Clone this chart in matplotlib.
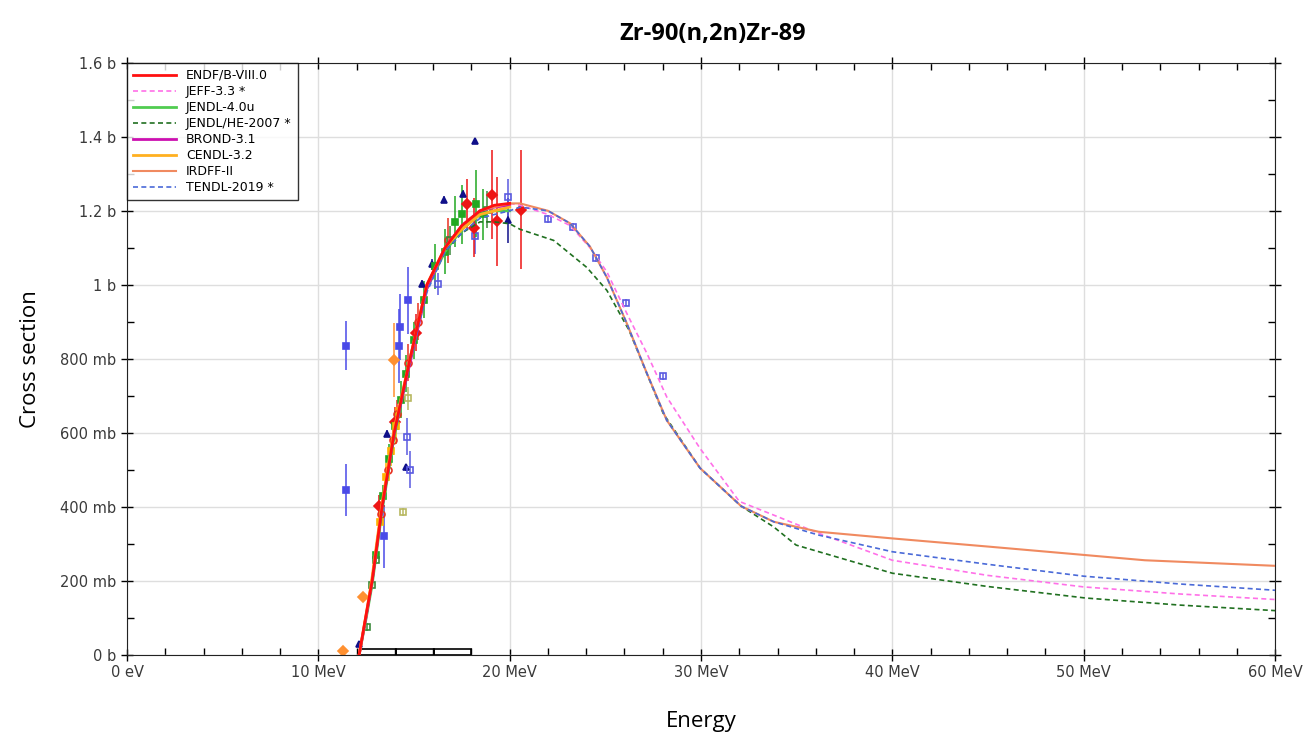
import numpy as np
import matplotlib
matplotlib.use("Agg")
from matplotlib import pyplot as plt
from matplotlib.patches import Rectangle
from matplotlib.ticker import MultipleLocator, FixedLocator

# evaluated libraries (energy in MeV, cross section in b)
e_rise = [12.13, 12.5, 12.81, 13.33, 13.96, 14.79, 15.67, 16.62, 17.5, 18.45, 19.2, 20.0]
endf = [0, 0.11, 0.2, 0.4, 0.6, 0.8, 1.0, 1.1, 1.16, 1.2, 1.215, 1.22]
jendl4 = [0, 0.1, 0.19, 0.39, 0.59, 0.8, 0.99, 1.09, 1.15, 1.19, 1.2, 1.2]
brond = [0, 0.105, 0.2, 0.4, 0.6, 0.79, 0.99, 1.1, 1.16, 1.2, 1.21, 1.215]
cendl = [0, 0.11, 0.21, 0.41, 0.61, 0.8, 1.0, 1.1, 1.15, 1.19, 1.2, 1.21]

e_irdff = e_rise + [20.54, 22.0, 23.16, 24.2, 25.08, 26.12, 27.17, 28.21, 29.95,
                    32.1, 33.8, 36.15, 40.0, 45.0, 50.1, 53.2, 60.0]
irdff = [0, 0.11, 0.2, 0.4, 0.6, 0.8, 1.0, 1.1, 1.16, 1.2, 1.21, 1.22,
         1.22, 1.2, 1.166, 1.103, 1.02, 0.896, 0.761, 0.634, 0.505,
         0.402, 0.36, 0.333, 0.315, 0.293, 0.27, 0.256, 0.241]

e_tendl = e_rise + [20.54, 22.0, 23.16, 24.2, 25.08, 26.12, 27.17, 28.21, 29.95,
                    32.1, 33.8, 36.15, 40.0, 45.0, 50.0, 55.0, 60.0]
tendl = [0, 0.1, 0.2, 0.39, 0.59, 0.79, 0.98, 1.09, 1.14, 1.18, 1.19, 1.2,
         1.21, 1.2, 1.166, 1.103, 1.02, 0.896, 0.761, 0.634, 0.505,
         0.402, 0.36, 0.324, 0.279, 0.245, 0.213, 0.192, 0.175]

e_jeff = e_rise + [20.54, 22.0, 23.16, 24.2, 25.08, 26.12, 27.17, 28.21, 29.95,
                   32.0, 33.8, 36.15, 40.0, 45.0, 50.0, 55.0, 60.0]
jeff = [0, 0.11, 0.2, 0.4, 0.6, 0.8, 1.0, 1.1, 1.16, 1.2, 1.215, 1.22,
        1.215, 1.19, 1.16, 1.1, 1.035, 0.923, 0.815, 0.697, 0.558,
        0.415, 0.378, 0.329, 0.256, 0.215, 0.184, 0.165, 0.15]

e_jhe = e_rise + [20.54, 22.3, 24.03, 25.08, 26.24, 28.02, 29.95,
                  32.1, 33.8, 34.97, 40.0, 45.0, 50.1, 55.0, 60.0]
jendl_he = [0, 0.1, 0.2, 0.4, 0.6, 0.8, 0.99, 1.09, 1.14, 1.17, 1.17, 1.165,
            1.15, 1.12, 1.047, 0.985, 0.877, 0.653, 0.505,
            0.402, 0.346, 0.297, 0.221, 0.185, 0.154, 0.135, 0.12]

# experimental points: energy, cross section, uncertainty
exp_blue_e = [11.45, 11.45, 13.45, 14.27, 14.22, 14.7]
exp_blue_s = [0.836, 0.445, 0.321, 0.886, 0.836, 0.958]
exp_blue_d = [0.067, 0.07, 0.085, 0.09, 0.1, 0.09]

exp_navy_e = [12.1, 13.57, 14.58, 15.4, 15.93, 16.59, 17.55, 18.19, 19.93]
exp_navy_s = [0.03, 0.598, 0.507, 1.003, 1.055, 1.23, 1.246, 1.388, 1.174]
exp_navy_d = [0.0, 0.01, 0.01, 0.01, 0.015, 0.01, 0.01, 0.005, 0.06]

exp_open_e = [14.62, 14.8, 16.27, 18.19, 19.9, 22.0, 23.3, 24.5, 26.1, 28.0]
exp_open_s = [0.589, 0.5, 1.003, 1.133, 1.236, 1.178, 1.156, 1.073, 0.952, 0.753]
exp_open_d = [0.05, 0.05, 0.03, 0.05, 0.05, 0.01, 0.01, 0.01, 0.01, 0.01]

exp_red_e = [13.19, 17.76, 18.15, 19.1, 19.36, 20.6, 14.0, 15.1]
exp_red_s = [0.402, 1.217, 1.154, 1.243, 1.172, 1.203, 0.63, 0.87]
exp_red_d = [0.03, 0.07, 0.08, 0.12, 0.12, 0.16, 0.04, 0.05]

exp_green_e = [13.0, 13.4, 13.7, 14.0, 14.3, 14.6, 15.0, 15.5, 16.1, 16.6, 17.15, 17.53, 18.24, 18.6]
exp_green_s = [0.27, 0.43, 0.53, 0.62, 0.69, 0.76, 0.85, 0.96, 1.05, 1.09, 1.171, 1.19, 1.219, 1.19]
exp_green_d = [0.02, 0.03, 0.04, 0.04, 0.05, 0.05, 0.05, 0.05, 0.06, 0.06, 0.07, 0.08, 0.09, 0.07]

exp_circ_e = [13.3, 13.65, 13.9, 14.1, 14.7, 15.2, 16.8]
exp_circ_s = [0.38, 0.5, 0.58, 0.65, 0.79, 0.9, 1.12]
exp_circ_d = [0.03, 0.03, 0.04, 0.04, 0.05, 0.05, 0.06]

exp_dgreen_e = [12.53, 12.79, 13.0, 16.9, 18.83]
exp_dgreen_s = [0.076, 0.189, 0.256, 1.12, 1.203]
exp_dgreen_d = [0.01, 0.01, 0.01, 0.04, 0.05]

exp_gold_e = [13.2, 13.55, 13.8, 14.05]
exp_gold_s = [0.36, 0.48, 0.55, 0.62]
exp_gold_d = [0.03, 0.04, 0.04, 0.05]

exp_orange_e = [11.3, 12.35, 13.96]
exp_orange_s = [0.012, 0.157, 0.798]
exp_orange_d = [0.0, 0.01, 0.1]

exp_olive_e = [14.4, 14.7]
exp_olive_s = [0.386, 0.693]
exp_olive_d = [0.01, 0.03]

# spectrum averaged bins at the bottom
bin_edges = [12.2, 14.06, 16.07, 18.0]
bin_height = 0.016

fig = plt.figure(figsize=(13.08, 7.36), dpi=100)
ax = fig.add_axes([0.0971, 0.110, 0.8777, 0.8048])

# experimental data first (under the curves)
def exp(e, s, d, color, marker, filled=True, ms=5):
    ax.errorbar(e, s, yerr=d, fmt=marker, color=color, ms=ms, elinewidth=1.1,
                capsize=0, mfc=color if filled else "none", mec=color, mew=1.2, zorder=2)

exp(exp_blue_e, exp_blue_s, exp_blue_d, "#4a4ae8", "s")
exp(exp_navy_e, exp_navy_s, exp_navy_d, "#10108a", "^")
exp(exp_open_e, exp_open_s, exp_open_d, "#5a5ae0", "s", filled=False)
exp(exp_red_e, exp_red_s, exp_red_d, "#ee1515", "D")
exp(exp_green_e, exp_green_s, exp_green_d, "#22a822", "s")
exp(exp_circ_e, exp_circ_s, exp_circ_d, "#e83020", "o", filled=False)
exp(exp_dgreen_e, exp_dgreen_s, exp_dgreen_d, "#3c8a3c", "s", filled=False)
exp(exp_gold_e, exp_gold_s, exp_gold_d, "#ffb400", "s")
exp(exp_orange_e, exp_orange_s, exp_orange_d, "#ff9030", "D")
exp(exp_olive_e, exp_olive_s, exp_olive_d, "#b8b860", "s", filled=False)

for lo, hi in zip(bin_edges[:-1], bin_edges[1:]):
    ax.add_patch(Rectangle((lo, 0), hi - lo, bin_height, fill=False, ec="black", lw=1.2, zorder=3))

ax.plot(e_rise, endf, color="#ff1010", lw=2, label="ENDF/B-VIII.0", zorder=5)
ax.plot(e_jeff, jeff, color="#ff70e8", lw=1.2, ls=(0, (3, 2)), label="JEFF-3.3 *", zorder=4)
ax.plot(e_rise, jendl4, color="#50cc50", lw=2, label="JENDL-4.0u", zorder=4)
ax.plot(e_jhe, jendl_he, color="#207020", lw=1.2, ls=(0, (3, 2)), label="JENDL/HE-2007 *", zorder=4)
ax.plot(e_rise, brond, color="#cc10b0", lw=2, label="BROND-3.1", zorder=4)
ax.plot(e_rise, cendl, color="#ffb020", lw=2, label="CENDL-3.2", zorder=4)
ax.plot(e_irdff, irdff, color="#f08a60", lw=1.5, label="IRDFF-II", zorder=4)
ax.plot(e_tendl, tendl, color="#4a6ad8", lw=1.2, ls=(0, (3, 2)), label="TENDL-2019 *", zorder=4)

ax.set_xlim(0, 60)
ax.set_ylim(0, 1.6)

xt = [0, 10, 20, 30, 40, 50, 60]
xtl = ["0 eV", "10 MeV", "20 MeV", "30 MeV", "40 MeV", "50 MeV", "60 MeV"]
yt = [0, 0.2, 0.4, 0.6, 0.8, 1.0, 1.2, 1.4, 1.6]
ytl = ["0 b", "200 mb", "400 mb", "600 mb", "800 mb", "1 b", "1.2 b", "1.4 b", "1.6 b"]
ax.xaxis.set_major_locator(FixedLocator(xt))
ax.set_xticklabels(xtl)
ax.yaxis.set_major_locator(FixedLocator(yt))
ax.set_yticklabels(ytl)
ax.xaxis.set_minor_locator(MultipleLocator(2))
ax.yaxis.set_minor_locator(MultipleLocator(0.1))
ax.tick_params(which="major", direction="inout", length=9, width=1, labelsize=10.5,
               labelcolor="#3a3a3a", top=True, right=True, pad=3)
ax.tick_params(which="minor", direction="in", length=5, width=1, top=True, right=True)
ax.grid(True, which="major", color="#dedede", lw=1, zorder=0)
ax.set_axisbelow(True)
for sp in ax.spines.values():
    sp.set_color("#222222")

ax.set_title("Zr-90(n,2n)Zr-89", fontsize=17, fontweight="bold", family="Open Sans", pad=16, x=0.51)
ax.set_xlabel("Energy", fontsize=16, family="Open Sans", labelpad=22)
ax.set_ylabel("Cross section", fontsize=16, family="Open Sans", labelpad=14)

leg = ax.legend(loc="upper left", fontsize=9, frameon=True, fancybox=False,
                edgecolor="black", borderaxespad=0, handlelength=3.4,
                labelspacing=0.24, borderpad=0.5)
leg.get_frame().set_linewidth(1)

fig.savefig("out.png", dpi=100)
